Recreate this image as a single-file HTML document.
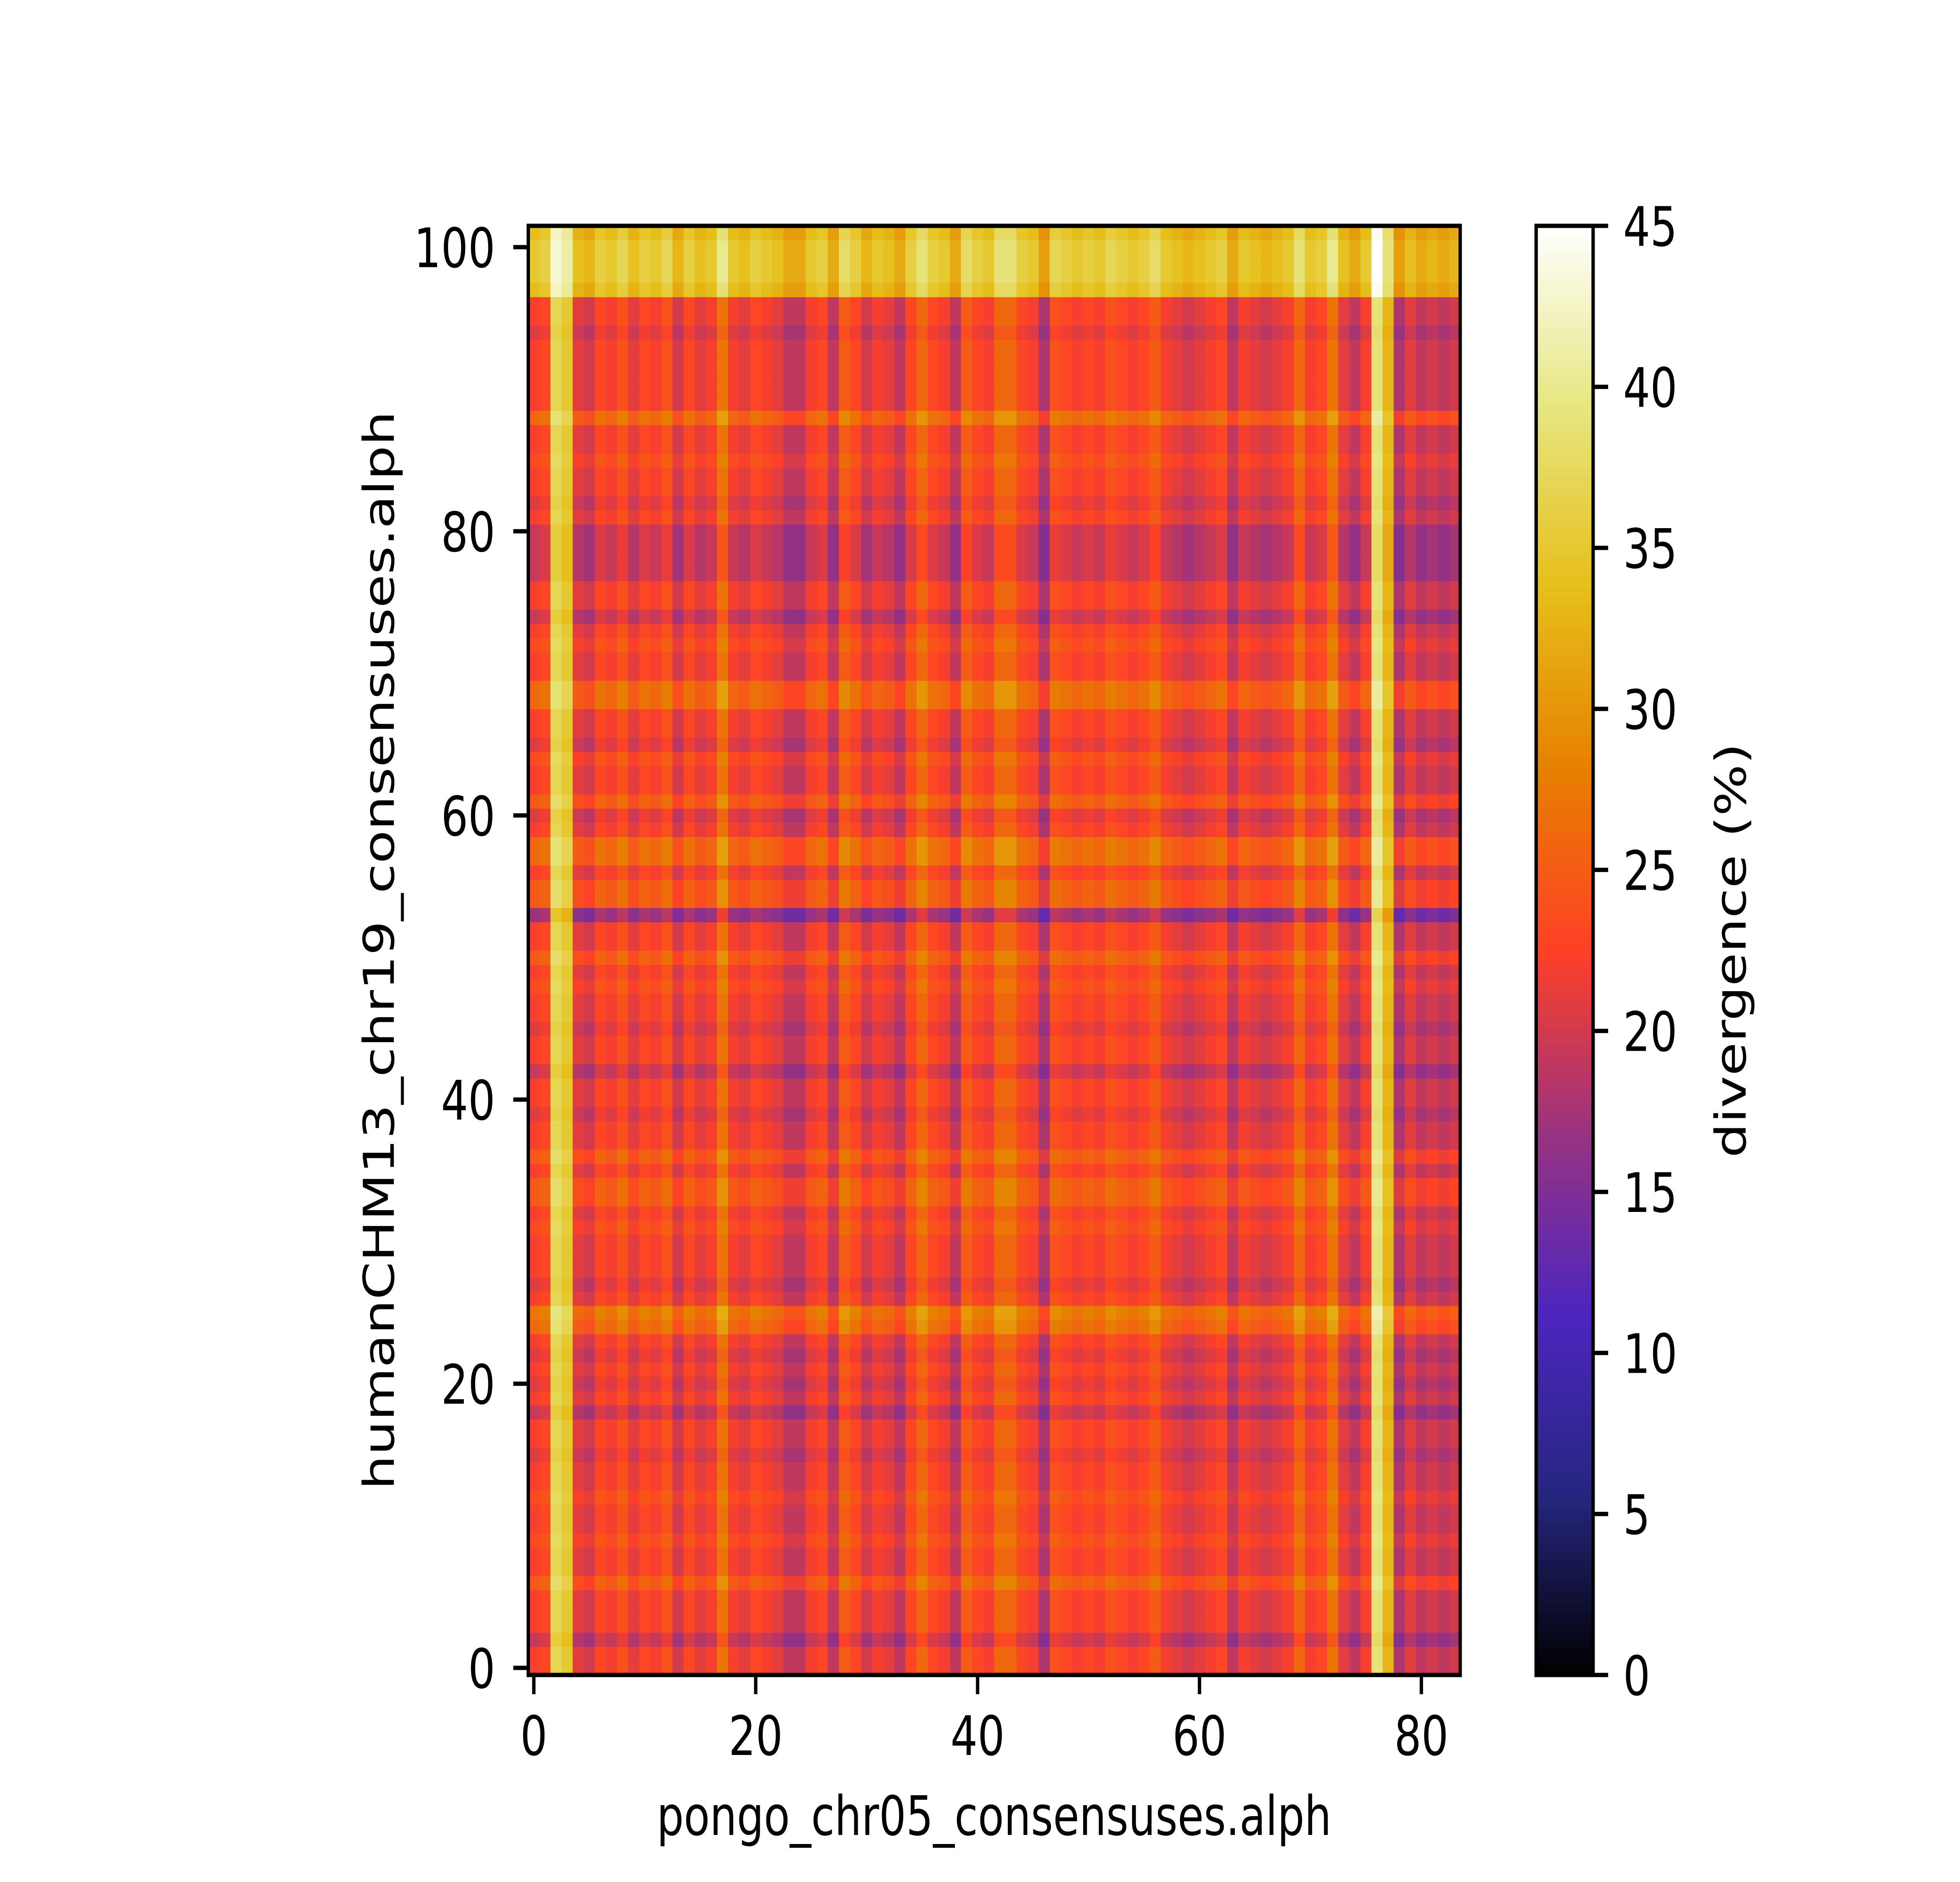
<!DOCTYPE html>
<html><head><meta charset="utf-8"><style>
html,body{margin:0;padding:0;background:#fff;overflow:hidden;width:100vw;height:100vh;}
svg{display:block;position:absolute;left:0;top:0;width:100vw;height:100vh;font-family:"DejaVu Sans","Liberation Sans",sans-serif;}
</style></head><body>
<svg id="chart" xmlns="http://www.w3.org/2000/svg" viewBox="0 0 6400 4800" preserveAspectRatio="none">
<rect x="0" y="0" width="6400" height="4800" fill="#fff"/>
<defs>
<linearGradient id="cmapGrad" x1="0" y1="1" x2="0" y2="0">
<stop offset="0" stop-color="rgb(0,0,0)"/>
<stop offset="0.125" stop-color="rgb(38,38,128)"/>
<stop offset="0.25" stop-color="rgb(77,38,191)"/>
<stop offset="0.375" stop-color="rgb(153,51,128)"/>
<stop offset="0.5" stop-color="rgb(255,64,38)"/>
<stop offset="0.625" stop-color="rgb(230,128,0)"/>
<stop offset="0.75" stop-color="rgb(230,191,26)"/>
<stop offset="0.875" stop-color="rgb(230,230,128)"/>
<stop offset="1" stop-color="rgb(255,255,255)"/>
</linearGradient>
</defs>
<g id="cells"></g>
<g id="axes"></g>
<rect x="5016" y="576" width="186" height="3696" fill="url(#cmapGrad)"/>
<rect x="5016" y="576" width="186" height="3696" fill="none" stroke="#000" stroke-width="11"/>
<g id="cbar"></g>
<text x="3246" y="4680" font-size="139" text-anchor="middle">pongo_chr05_consensuses.alph</text>
<text transform="translate(1286,2424) rotate(-90)" font-size="139" text-anchor="middle">humanCHM13_chr19_consensuses.alph</text>
<text transform="translate(5700,2424) rotate(-90)" font-size="139" text-anchor="middle">divergence (%)</text>
</svg>
<script>
// column profile (x = pongo index 0..83), divergence %
const colValues = [22,23,37,35,21,20,23,22,24,21,23,22,24,20,23,21,22,27,22,21,
23,22,21,19,19,22,23,19,25,23,20,22,21,19,23,26,23,22,19,25,
23,22,26,26,23,22,18,24,23,22,23,22,24,23,22,23,25,22,21,20,
21,22,23,19,22,21,20,21,22,26,22,23,27,21,19,22,39,33,18,21,
19,20,19,20];
// row offsets (y = human index 0..101)
const rowOffsets = [0,0,-2,0,0,0,2,0,0,1,0,0,1,0,0,-1,0,0,-2,0,
-1,0,-1,0,3,4,0,-1,0,0,0,1,0,2,2,0,2,0,0,-1,
0,0,-2,0,0,-1,0,0,1,0,2,0,0,-4,2,2,0,3,3,0,
-1,2,0,0,1,-1,0,0,3,3,0,0,1,0,-2,0,0,-2,-2,-2,
-2,0,-1,0,0,1,0,0,3,0,0,0,0,0,-1,0,0,9,10,10,
10,9];
const xTicks = [0,20,40,60,80];
const yTicks = [0,20,40,60,80,100];
const cbarTicks = [0,5,10,15,20,25,30,35,40,45];

const NS = "http://www.w3.org/2000/svg";
const AX_L = 1725, AX_R = 4768, AX_T = 576, AX_B = 4272;
const X0 = -0.5, X1 = 83.5, Y0 = -0.5, Y1 = 101.5;
const VMAX = 45;
function xs(v){ return AX_L + (v - X0) / (X1 - X0) * (AX_R - AX_L); }
function ys(v){ return AX_B - (v - Y0) / (Y1 - Y0) * (AX_B - AX_T); }
function cs(v){ return AX_B - v / VMAX * (AX_B - AX_T); }
const cmapStops = [[0,0,0],[38,38,128],[77,38,191],[153,51,128],[255,64,38],[230,128,0],[230,191,26],[230,230,128],[255,255,255]];
function cmap(v){
  let t = Math.max(0, Math.min(1, v / VMAX)) * 8;
  let i = Math.min(7, Math.floor(t)), f = t - i;
  const a = cmapStops[i], b = cmapStops[i+1];
  return "rgb(" + a.map((c,k)=>Math.round(c + (b[k]-c)*f)).join(",") + ")";
}
function mk(tag, attrs, parent){
  const e = document.createElementNS(NS, tag);
  for (const k in attrs) e.setAttribute(k, attrs[k]);
  parent.appendChild(e);
  return e;
}
const cells = document.getElementById("cells");
const cw = xs(1) - xs(0), ch = ys(0) - ys(1);
for (let i = 0; i < rowOffsets.length; i++) {
  for (let j = 0; j < colValues.length; j++) {
    const v = colValues[j] + rowOffsets[i] * (colValues[j] > 30 ? 0.6 : 1.3);
    const r = mk("rect", {x: xs(j - 0.5), y: ys(i + 0.5), width: cw + 0.8, height: ch + 0.8, fill: cmap(v)}, cells);
    
    
  }
}
const axes = document.getElementById("axes");
const frame = mk("rect", {x: AX_L, y: AX_T, width: AX_R - AX_L, height: AX_B - AX_T, fill: "none", stroke: "#000", "stroke-width": 11}, axes);


xTicks.forEach(t => {
  const l = mk("line", {x1: xs(t), x2: xs(t), y1: AX_B, y2: AX_B + 49, stroke: "#000", "stroke-width": 11}, axes);
  
  
  const tx = mk("text", {x: xs(t), y: 4476, "font-size": 139, "text-anchor": "middle"}, axes);
  tx.textContent = t;
  
  
});
yTicks.forEach(t => {
  const l = mk("line", {x1: AX_L - 49, x2: AX_L, y1: ys(t), y2: ys(t), stroke: "#000", "stroke-width": 11}, axes);
  
  
  const tx = mk("text", {x: 1617, y: ys(t) + 51, "font-size": 139, "text-anchor": "end"}, axes);
  tx.textContent = t;
  
  
});
const cbar = document.getElementById("cbar");
cbarTicks.forEach(t => {
  const l = mk("line", {x1: 5202, x2: 5251, y1: cs(t), y2: cs(t), stroke: "#000", "stroke-width": 11}, cbar);
  
  
  const tx = mk("text", {x: 5300, y: cs(t) + 51, "font-size": 139}, cbar);
  tx.textContent = t;
  
  
});
</script>
</body></html>
